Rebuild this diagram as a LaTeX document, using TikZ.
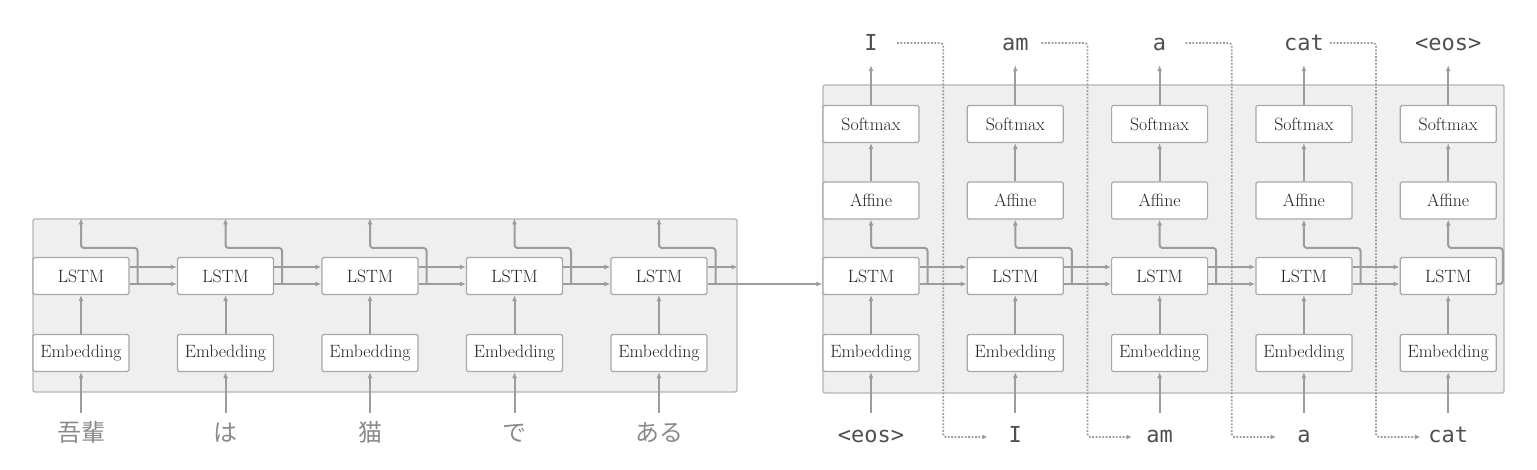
\documentclass[tikz,border=0pt]{standalone}
\usepackage{fontspec}
\newfontfamily\monof{DejaVu Sans Mono}
\newfontfamily\jpf{Noto Sans CJK JP}
\usetikzlibrary{arrows.meta,calc}
\definecolor{linec}{HTML}{9C9C9C}
\definecolor{boxc}{HTML}{A8A8A8}
\definecolor{bgc}{HTML}{EFEFEF}
\definecolor{bgline}{HTML}{B5B5B5}
\definecolor{txtc}{HTML}{222222}
\definecolor{monoc}{HTML}{4F4F4F}
\definecolor{jpc}{HTML}{8A8A8A}
\begin{document}
\begin{tikzpicture}[x=1pt,y=-1pt,
 bigbox/.style={draw=bgline, fill=bgc, line width=1.4pt, rounded corners=2pt, inner sep=0pt},
 layer/.style={draw=boxc, fill=white, line width=1.2pt, rounded corners=1.5pt, minimum width=96pt, minimum height=37pt, inner sep=0pt, font=\fontsize{17.8pt}{20pt}\selectfont, text=txtc},
 conn/.style={draw=linec, line width=2pt, -{Latex[length=6pt,width=5pt]}, rounded corners=3pt},
 dots/.style={draw=linec, line width=1.8pt, dash pattern=on 1.8pt off 1.6pt, rounded corners=3pt, -{Latex[length=5pt,width=5pt]}},
 word/.style={font=\monof\fontsize{22pt}{24pt}\selectfont, text=monoc, inner sep=0pt, text height=15pt, text depth=0pt},
 jword/.style={font=\jpf\fontsize{24pt}{26pt}\selectfont, text=jpc, inner sep=0pt, text height=20pt, text depth=2pt}
]
\useasboundingbox (0,0) rectangle (1537,470);
\node[bigbox, minimum width=704pt, minimum height=173pt] (enc) at (385,305.5) {};
\node[bigbox, minimum width=681pt, minimum height=308pt] (dec) at (1163.5,239) {};

% encoder
\foreach \i/\x/\w in {1/81/吾輩,2/225.5/は,3/370/猫,4/514.5/で,5/659/ある}{
  \node[layer] (el\i) at (\x,276) {LSTM};
  \node[layer] (ee\i) at (\x,353) {Embedding};
  \node[jword] (jw\i) at (\x,432) {\w};
  \draw[conn] ([yshift=8pt]jw\i.north) -- (ee\i.south);
  \draw[conn] (ee\i.north) -- (el\i.south);
  \draw[conn] ([xshift=8pt,yshift=-8pt]el\i.east) -- ++(0,-36) -| (el\i |- enc.north);
}
% decoder
\foreach \i/\x/\o/\n in {1/871/I/<eos>,2/1015.3/am/I,3/1159.6/a/am,4/1303.9/cat/a,5/1448.2/<eos>/cat}{
  \node[layer] (ds\i) at (\x,124) {Softmax};
  \node[layer] (da\i) at (\x,200.5) {Affine};
  \node[layer] (dl\i) at (\x,276) {LSTM};
  \node[layer] (de\i) at (\x,353) {Embedding};
  \node[word] (o\i) at (\x,43) {\o};
  \node[word] (w\i) at (\x,435) {\n};
  \draw[conn] ([yshift=14.5pt]w\i.north) -- (de\i.south);
  \draw[conn] (de\i.north) -- (dl\i.south);
  \draw[conn] (da\i.north) -- (ds\i.south);
  \draw[conn] (ds\i.north) -- ([yshift=-14.5pt]o\i.south);
}
% recurrent connections
\foreach \i/\j in {1/2,2/3,3/4,4/5}{
  \draw[conn] ([yshift=9pt]el\i.east) -- ([yshift=9pt]el\j.west);
  \draw[conn] ([yshift=-8pt]el\i.east) -- ([yshift=-8pt]el\j.west);
  \draw[conn] ([yshift=9pt]dl\i.east) -- ([yshift=9pt]dl\j.west);
  \draw[conn] ([yshift=-8pt]dl\i.east) -- ([yshift=-8pt]dl\j.west);
  \draw[conn] ([xshift=8pt,yshift=-8pt]dl\i.east) -- ++(0,-36) -| (da\i.south);
}
\draw[conn] ([yshift=9pt]el5.east) -- ([yshift=9pt]el5.east -| enc.east);
\draw[conn] ([yshift=-8pt]el5.east) -- ([yshift=-8pt]dl1.west);
\draw[conn] ([yshift=-8pt]dl5.east) -- ++(6,0) -- ++(0,-36) -| (da5.south);
% feedback of generated words
\foreach \i/\j in {1/2,2/3,3/4,4/5}{
  \draw[dots] ([xshift=26pt]o\i.center) -| ($(dl\i.east)!0.5!(dl\j.west)$) |- ([xshift=-28pt,yshift=-2pt]w\j.center);
}
\end{tikzpicture}
\end{document}
